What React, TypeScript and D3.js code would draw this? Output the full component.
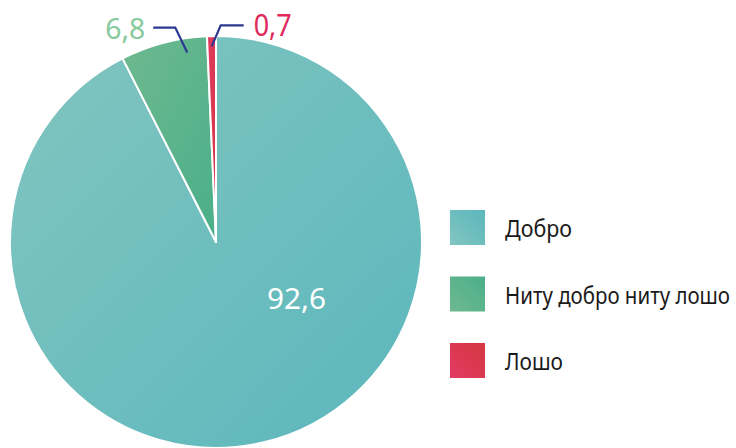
import React from "react";
import * as d3 from "d3";

const categories = ["Добро", "Ниту добро ниту лошо", "Лошо"];
const values = [92.6, 6.8, 0.7];
const valueLabels = ["92,6", "6,8", "0,7"];
const gradStart = ["#82c5bf", "#6fb98f", "#e23b65"];
const gradEnd = ["#5bb7bd", "#4aaf8a", "#d4373f"];
const labelColors = ["#ffffff", "#86c99b", "#e0285a"];

const W = 736;
const H = 448;
const cx = 216;
const cy = 242;
const R = 206;
const FONT = "'Noto Sans', sans-serif";
const legendWidths = [67, 225, 58];
const valueWidths = [59, 40, 38];

export default function App() {
  const pie = d3.pie<number>().sort(null).startAngle(0).endAngle(2 * Math.PI);
  const arcs = pie(values);
  const arcGen = d3.arc<d3.PieArcDatum<number>>().innerRadius(0).outerRadius(R);
  const polar = (a: number, r: number) => [cx + r * Math.sin(a), cy - r * Math.cos(a)];

  const big = arcs[0];
  const bigPos = polar(big.startAngle + (big.endAngle - big.startAngle) * 0.377, R * 0.48);

  const g = arcs[1];
  const gA = g.startAngle + (g.endAngle - g.startAngle) * 0.75;
  const gP = polar(gA, R * 0.93);
  const gElbow = [gP[0] - 12, gP[1] - 25];
  const gEnd = [gElbow[0] - 22, gElbow[1]];

  const r = arcs[2];
  const rA = (r.startAngle + r.endAngle) / 2;
  const rP = polar(rA, R * 0.95);
  const rElbow = [rP[0] + 9, rP[1] - 21];
  const rEnd = [rElbow[0] + 23, rElbow[1]];

  const legendY = d3.scalePoint<string>().domain(categories).range([210, 343]);

  return (
    <svg width={W} height={H} style={{ position: "absolute", left: 0, top: 0 }}>
      <defs>
        {categories.map((c, i) => (
          <linearGradient key={"p" + i} id={"pg" + i} x1="0" y1="0" x2="1" y2="1">
            <stop offset="0" stopColor={gradStart[i]} />
            <stop offset="1" stopColor={gradEnd[i]} />
          </linearGradient>
        ))}
        {categories.map((c, i) => (
          <linearGradient key={"l" + i} id={"lg" + i} x1="0" y1="1" x2="1" y2="0">
            <stop offset="0" stopColor={gradStart[i]} />
            <stop offset="1" stopColor={gradEnd[i]} />
          </linearGradient>
        ))}
      </defs>
      <g transform={`translate(${cx},${cy})`}>
        {arcs.map((a, i) => (
          <path key={i} d={arcGen(a) || ""} fill={`url(#pg${i})`} stroke="#ffffff" strokeWidth={2} strokeLinejoin="round" />
        ))}
      </g>
      <text
        x={bigPos[0] - valueWidths[0] / 2}
        y={bigPos[1] + 10}
        fill={labelColors[0]}
        fontFamily={FONT}
        fontSize={29}
        textLength={valueWidths[0]}
        lengthAdjust="spacingAndGlyphs"
      >
        {valueLabels[0]}
      </text>
      <polyline points={[gP, gElbow, gEnd].map((p) => p.join(",")).join(" ")} fill="none" stroke="#2b3990" strokeWidth={2.2} />
      <polyline points={[rP, rElbow, rEnd].map((p) => p.join(",")).join(" ")} fill="none" stroke="#2b3990" strokeWidth={2.2} />
      <text
        x={gEnd[0] - 8 - valueWidths[1]}
        y={39}
        fill={labelColors[1]}
        fontFamily={FONT}
        fontSize={29}
        textLength={valueWidths[1]}
        lengthAdjust="spacingAndGlyphs"
      >
        {valueLabels[1]}
      </text>
      <text
        x={rEnd[0] + 10}
        y={36}
        fill={labelColors[2]}
        fontFamily={FONT}
        fontSize={31}
        textLength={valueWidths[2]}
        lengthAdjust="spacingAndGlyphs"
      >
        {valueLabels[2]}
      </text>
      {categories.map((c, i) => (
        <g key={c} transform={`translate(450,${legendY(c)})`}>
          <rect width={35} height={35} fill={`url(#lg${i})`} />
          <text
            x={55}
            y={27}
            fontFamily={FONT}
            fontSize={23}
            fill="#1a1a1a"
            textLength={legendWidths[i]}
            lengthAdjust="spacingAndGlyphs"
          >
            {c}
          </text>
        </g>
      ))}
    </svg>
  );
}
